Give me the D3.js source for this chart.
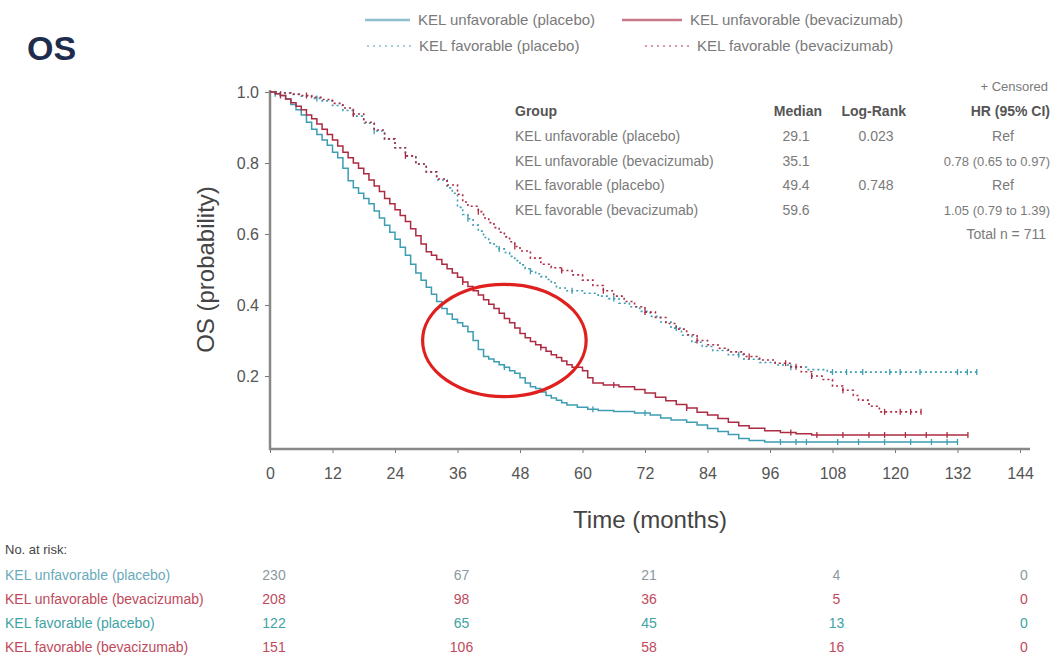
<!DOCTYPE html>
<html>
<head>
  <script src="https://d3js.org/d3.v7.min.js"></script>
  <style>
    body { margin: 0; background: #fff; }
    svg { font-family: "Liberation Sans", Arial, sans-serif; }
    .tick text { font-size: 16px; fill: #555; }
    .tick line { stroke: #777; }
    .axis-title { font-size: 24px; fill: #444; }
    .tbl { font-size: 14px; fill: #7a7a7a; }
    .tbl-head { font-size: 14px; font-weight: bold; fill: #555; }
    .leg { font-size: 15px; fill: #7a7a7a; }
    .risk { font-size: 14px; }
  </style>
</head>
<body>
  <div id="chart"></div>

  <script>
    // ---- data ----
    const groups = ["KEL unfavorable (placebo)", "KEL unfavorable (bevacizumab)",
                    "KEL favorable (placebo)", "KEL favorable (bevacizumab)"];

    // [month, survival probability] step points
    const unfavPlacebo = [[0,1],[1,0.995],[2,0.99],[3,0.98],[4,0.965],[5,0.95],[6,0.935],[7,0.915],
      [8,0.895],[9,0.88],[10,0.865],[11,0.85],[12,0.83],[13,0.815],[14,0.785],[15,0.75],[16,0.73],
      [17,0.715],[18,0.7],[19,0.685],[20,0.665],[21,0.645],[22,0.625],[23,0.605],[24,0.585],[25,0.563],
      [26,0.54],[27,0.515],[28,0.49],[29,0.47],[30,0.45],[31,0.43],[32,0.41],[33,0.39],[34,0.375],
      [35,0.36],[36,0.35],[37,0.34],[38,0.325],[39,0.3],[40,0.275],[41,0.255],[42,0.248],[43,0.24],
      [44,0.232],[45,0.225],[46,0.215],[47,0.208],[48,0.195],[49,0.18],[50,0.17],[51,0.165],[52,0.155],
      [53,0.145],[54,0.138],[55,0.132],[56,0.125],[57,0.118],[59,0.112],[61,0.106],[63,0.103],[66,0.1],
      [70,0.096],[73,0.09],[75,0.082],[77,0.076],[80,0.07],[82,0.062],[84,0.052],[86,0.044],[88,0.035],
      [90,0.024],[92,0.018],[95,0.014],[132,0.014]];

    const unfavBev = [[0,1],[1,0.995],[2,0.99],[3,0.98],[4,0.97],[5,0.96],[6,0.95],[7,0.935],[8,0.925],
      [9,0.91],[10,0.895],[11,0.88],[12,0.865],[13,0.848],[14,0.83],[15,0.815],[16,0.8],[17,0.785],
      [18,0.77],[19,0.752],[20,0.735],[21,0.72],[22,0.7],[23,0.685],[24,0.668],[25,0.652],[26,0.635],
      [27,0.615],[28,0.595],[29,0.572],[30,0.55],[31,0.54],[32,0.528],[33,0.515],[34,0.502],[35,0.49],
      [36,0.478],[37,0.465],[38,0.452],[39,0.44],[40,0.428],[41,0.415],[42,0.402],[43,0.39],[44,0.377],
      [45,0.362],[46,0.35],[47,0.335],[48,0.32],[49,0.308],[50,0.297],[51,0.288],[52,0.28],[53,0.27],
      [54,0.26],[55,0.252],[56,0.242],[57,0.232],[58,0.225],[60,0.215],[61,0.195],[62,0.18],[64,0.175],
      [67,0.17],[70,0.162],[72,0.152],[74,0.14],[76,0.13],[78,0.12],[80,0.11],[82,0.098],[84,0.09],
      [86,0.08],[88,0.07],[90,0.06],[92,0.053],[95,0.046],[98,0.041],[101,0.037],[104,0.034],[134,0.034]];

    const favPlacebo = [[0,1],[2,0.997],[4,0.993],[6,0.988],[8,0.982],[10,0.975],[12,0.962],[14,0.948],
      [16,0.932],[18,0.912],[20,0.89],[22,0.867],[24,0.843],[26,0.82],[28,0.797],[30,0.775],[32,0.752],
      [34,0.73],[35,0.715],[36,0.675],[37,0.655],[38,0.643],[39,0.625],[40,0.608],[41,0.59],[42,0.575],
      [43,0.565],[44,0.558],[45,0.548],[46,0.537],[47,0.525],[48,0.513],[49,0.502],[50,0.495],[51,0.488],
      [52,0.48],[53,0.472],[54,0.462],[55,0.448],[57,0.44],[60,0.433],[63,0.425],[65,0.418],[67,0.405],
      [69,0.395],[71,0.382],[73,0.368],[75,0.352],[77,0.335],[79,0.315],[81,0.295],[83,0.283],[85,0.272],
      [88,0.26],[91,0.247],[94,0.238],[97,0.231],[100,0.225],[103,0.218],[107,0.211],[136,0.211]];

    const favBev = [[0,1],[2,0.997],[4,0.994],[6,0.99],[8,0.985],[10,0.979],[12,0.968],[14,0.955],
      [16,0.938],[18,0.915],[20,0.893],[22,0.868],[24,0.843],[26,0.82],[28,0.797],[30,0.775],[32,0.755],
      [34,0.738],[36,0.712],[37,0.69],[38,0.678],[40,0.663],[41,0.645],[42,0.632],[43,0.618],[44,0.605],
      [45,0.592],[46,0.578],[47,0.565],[48,0.552],[50,0.532],[52,0.515],[54,0.505],[56,0.497],[58,0.485],
      [60,0.47],[62,0.455],[64,0.44],[66,0.425],[68,0.41],[70,0.395],[72,0.38],[74,0.365],[76,0.348],
      [78,0.332],[80,0.316],[82,0.3],[84,0.288],[86,0.278],[88,0.268],[91,0.255],[94,0.245],[97,0.236],
      [100,0.226],[102,0.212],[104,0.2],[106,0.19],[108,0.172],[110,0.16],[112,0.145],[113,0.132],
      [115,0.115],[117,0.099],[125,0.099]];

    // censoring times (months)
    const censUnfavPlacebo = [1, 45, 62, 72, 98, 101, 103, 109, 113, 118, 123, 127, 130, 132];
    const censUnfavBev = [2, 37, 52, 66, 80, 100, 105, 110, 115, 118, 122, 126, 130, 134];
    const censFavPlacebo = [9, 20, 38, 44, 50, 58, 66, 78, 90, 100, 108, 110.7, 113.8, 119, 121, 124.8, 132, 133.9, 135.7];
    const censFavBev = [7, 16, 26, 40, 47, 56, 64, 72, 82, 92, 99, 101, 104, 110, 118, 121, 123, 125];

    const xTicks = [0, 12, 24, 36, 48, 60, 72, 84, 96, 108, 120, 132, 144];
    const yTicks = [0.2, 0.4, 0.6, 0.8, 1.0];

    const tableHead = ["Group", "Median", "Log-Rank", "HR (95% CI)"];
    const medians = ["29.1", "35.1", "49.4", "59.6"];
    const logRank = ["0.023", "", "0.748", ""];
    const hazard = ["Ref", "0.78 (0.65 to 0.97)", "Ref", "1.05 (0.79 to 1.39)"];

    const riskTimes = [0, 36, 72, 108, 144];
    const riskUnfavPlacebo = [230, 67, 21, 4, 0];
    const riskUnfavBev = [208, 98, 36, 5, 0];
    const riskFavPlacebo = [122, 65, 45, 13, 0];
    const riskFavBev = [151, 106, 58, 16, 0];

    // red annotation ellipse (centre in months / probability, radii in same units)
    const circle = { t: 45, p: 0.30, rt: 15.7, rp: 0.158 };

    const teal = "#3c9db3", crimson = "#ad2b42";
    const series = [
      { name: groups[0], data: unfavPlacebo, cens: censUnfavPlacebo, color: teal, dash: null, risk: riskUnfavPlacebo, riskColor: "#6aaabb" },
      { name: groups[1], data: unfavBev, cens: censUnfavBev, color: crimson, dash: null, risk: riskUnfavBev, riskColor: "#c04a5c" },
      { name: groups[2], data: favPlacebo, cens: censFavPlacebo, color: teal, dash: "2,3", risk: riskFavPlacebo, riskColor: "#3ea3a3" },
      { name: groups[3], data: favBev, cens: censFavBev, color: crimson, dash: "2,3", risk: riskFavBev, riskColor: "#c04a5c" }
    ];

    const W = 1063, H = 660;
    const svg = d3.select("#chart").append("svg")
      .attr("width", W).attr("height", H);

    const x = d3.scaleLinear().domain([0, 144]).range([270, 1020]);
    const y = d3.scaleLinear().domain([0, 1]).range([447, 92]);

    // title
    svg.append("text")
      .attr("x", 27).attr("y", 60)
      .style("font-size", "34px").style("font-weight", "bold").style("fill", "#1e2c4e")
      .text("OS");

    // axes
    svg.append("g")
      .attr("transform", "translate(0,449)")
      .call(d3.axisBottom(x).tickValues(xTicks).tickSize(4).tickPadding(15))
      .call(g => g.select(".domain").remove());
    svg.append("line")
      .attr("x1", x(0) - 1).attr("x2", x(144) + 10)
      .attr("y1", 449).attr("y2", 449)
      .attr("stroke", "#888").attr("stroke-width", 2.5);

    svg.append("g")
      .attr("transform", "translate(270,0)")
      .call(d3.axisLeft(y).tickValues(yTicks).tickFormat(d3.format(".1f")).tickSize(5).tickPadding(6))
      .call(g => g.select(".domain").remove());
    svg.append("line")
      .attr("x1", 270).attr("x2", 270)
      .attr("y1", y(1) - 2).attr("y2", 450)
      .attr("stroke", "#888").attr("stroke-width", 2.5);

    svg.append("text").attr("class", "axis-title")
      .attr("x", 650).attr("y", 528).attr("text-anchor", "middle")
      .text("Time (months)");
    svg.append("text").attr("class", "axis-title")
      .attr("transform", `translate(214,${y(0.5)}) rotate(-90)`)
      .attr("text-anchor", "middle")
      .text("OS (probability)");

    // survival curves
    const line = d3.line()
      .x(d => x(d[0])).y(d => y(d[1]))
      .curve(d3.curveStepAfter);

    function survAt(data, t) {
      let s = data[0][1];
      for (const d of data) { if (d[0] <= t) s = d[1]; }
      return s;
    }

    const curves = svg.append("g");
    series.forEach(s => {
      curves.append("path")
        .attr("d", line(s.data))
        .attr("fill", "none")
        .attr("stroke", s.color)
        .attr("stroke-width", s.dash ? 1.6 : 1.5)
        .attr("stroke-dasharray", s.dash);
      curves.selectAll(null)
        .data(s.cens)
        .enter().append("line")
          .attr("x1", d => x(d)).attr("x2", d => x(d))
          .attr("y1", d => y(survAt(s.data, d)) - 3)
          .attr("y2", d => y(survAt(s.data, d)) + 3)
          .attr("stroke", s.color)
          .attr("stroke-width", 1.3);
    });

    // red ellipse
    svg.append("ellipse")
      .attr("cx", x(circle.t)).attr("cy", y(circle.p))
      .attr("rx", x(circle.rt) - x(0)).attr("ry", y(0) - y(circle.rp))
      .attr("fill", "none").attr("stroke", "#e0201e").attr("stroke-width", 3.2);

    // top legend
    const legendPos = [[365, 20], [622, 20], [367, 46], [645, 46]];
    series.forEach((s, i) => {
      const [lx, ly] = legendPos[i];
      const len = s.dash ? 44 : (i === 1 ? 60 : 45);
      svg.append("line")
        .attr("x1", lx).attr("x2", lx + len)
        .attr("y1", ly).attr("y2", ly)
        .attr("stroke", i % 2 === 0 ? "#8fbfcc" : "#c9788a")
        .attr("stroke-width", s.dash ? 1.6 : 2.5)
        .attr("stroke-dasharray", s.dash ? "2,4" : null);
      svg.append("text").attr("class", "leg")
        .attr("x", lx + len + 8).attr("y", ly + 5)
        .text(s.name);
    });

    // in-plot table
    const tbl = svg.append("g");
    tbl.append("text").attr("class", "tbl")
      .attr("x", 1048).attr("y", 91).attr("text-anchor", "end")
      .style("font-size", "13px")
      .text("+ Censored");
    const colX = [515, 822, 906, 1050];
    const colAnchor = ["start", "end", "end", "end"];
    tableHead.forEach((h, j) => {
      tbl.append("text").attr("class", "tbl-head")
        .attr("x", colX[j]).attr("y", 116).attr("text-anchor", colAnchor[j])
        .text(h);
    });
    groups.forEach((g, i) => {
      const ry = 141 + i * 24.5;
      tbl.append("text").attr("class", "tbl").attr("x", 515).attr("y", ry).text(g);
      tbl.append("text").attr("class", "tbl").attr("x", 796).attr("y", ry)
        .attr("text-anchor", "middle").text(medians[i]);
      tbl.append("text").attr("class", "tbl").attr("x", 876).attr("y", ry)
        .attr("text-anchor", "middle").text(logRank[i]);
      tbl.append("text").attr("class", "tbl").attr("x", hazard[i] === "Ref" ? 1003 : 1050).attr("y", ry)
        .attr("text-anchor", hazard[i] === "Ref" ? "middle" : "end")
        .style("font-size", hazard[i] === "Ref" ? "14px" : "13px")
        .text(hazard[i]);
    });
    tbl.append("text").attr("class", "tbl")
      .attr("x", 1046).attr("y", 239).attr("text-anchor", "end")
      .text("Total n = 711");

    // number at risk
    svg.append("text").attr("class", "risk")
      .attr("x", 5).attr("y", 554).style("fill", "#444").style("font-size", "13px")
      .text("No. at risk:");
    series.forEach((s, i) => {
      const ry = 580 + i * 24;
      svg.append("text").attr("class", "risk")
        .attr("x", 5).attr("y", ry).style("fill", s.riskColor)
        .text(s.name);
      svg.selectAll(null)
        .data(s.risk)
        .enter().append("text").attr("class", "risk")
          .attr("x", (d, k) => x(riskTimes[k]) + 4)
          .attr("y", ry)
          .attr("text-anchor", "middle")
          .style("fill", i === 0 ? "#8a9aa0" : s.riskColor)
          .text(d => d);
    });
  </script>
</body>
</html>
